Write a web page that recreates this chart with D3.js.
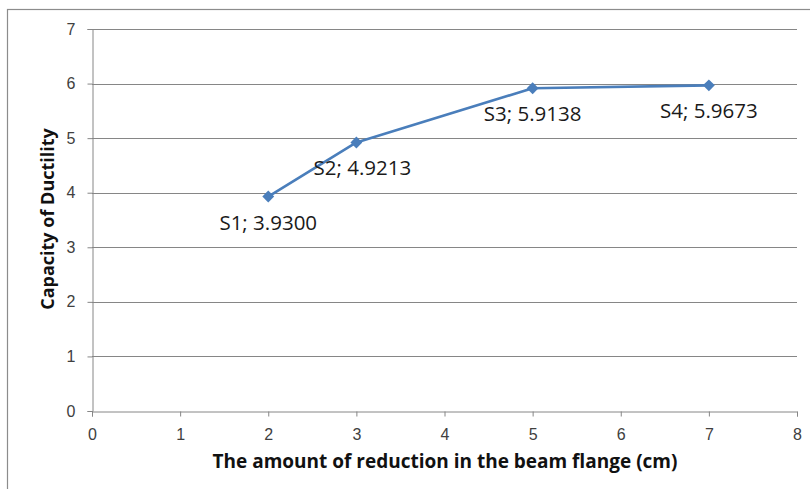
<!DOCTYPE html>
<html>
<head>
<meta charset="utf-8">
<script src="https://cdn.jsdelivr.net/npm/d3@7/dist/d3.min.js"></script>
<style>
  html, body { margin: 0; padding: 0; background: #fff; }
  svg { display: block; font-family: "Open Sans", "Noto Sans", sans-serif; }
</style>
</head>
<body>
<svg id="chart" width="810" height="489"></svg>
<script>
// Specimen labels, flange reduction (cm) and ductility capacity
const specimens = ["S1", "S2", "S3", "S4"];
const reduction = [2, 3, 5, 7];
const ductility = [3.9300, 4.9213, 5.9138, 5.9673];
const xTicks = [0, 1, 2, 3, 4, 5, 6, 7, 8];
const yTicks = [0, 1, 2, 3, 4, 5, 6, 7];
const xTitle = "The amount of reduction in the beam flange (cm)";
const yTitle = "Capacity of Ductility";

(function draw() {
  const svg = d3.select("#chart");
  const plot = { left: 92, right: 797, top: 29, bottom: 411 };
  const axisColor = "#868686";
  const lineColor = "#4a7ebb";

  // Outer chart frame
  svg.append("rect")
    .attr("x", 7.5).attr("y", 9.5)
    .attr("width", 900).attr("height", 600)
    .attr("fill", "none").attr("stroke", "#8c8c8c").attr("stroke-width", 1.2);

  const x = d3.scaleLinear().domain([0, 8]).range([plot.left, plot.right]);
  const y = d3.scaleLinear().domain([0, 7]).range([plot.bottom, plot.top]);

  // Horizontal gridlines
  svg.append("g").selectAll("line")
    .data(yTicks.filter(d => d > 0))
    .join("line")
    .attr("x1", plot.left).attr("x2", plot.right)
    .attr("y1", d => Math.round(y(d)) + 0.5).attr("y2", d => Math.round(y(d)) + 0.5)
    .attr("stroke", axisColor).attr("stroke-width", 1);

  // Y axis
  const yAxis = svg.append("g")
    .attr("transform", `translate(${plot.left + 0.5},0)`)
    .call(d3.axisLeft(y).tickValues(yTicks).tickFormat(d3.format("d")).tickSize(5).tickPadding(12));
  yAxis.select(".domain").attr("stroke", axisColor);
  yAxis.selectAll(".tick line").attr("stroke", axisColor);
  yAxis.selectAll(".tick text").attr("fill", "#404040").style("font-size", "16px");

  // X axis
  const xAxis = svg.append("g")
    .attr("transform", `translate(0,${plot.bottom + 0.5})`)
    .call(d3.axisBottom(x).tickValues(xTicks).tickFormat(d3.format("d")).tickSize(5).tickPadding(12));
  xAxis.select(".domain").attr("stroke", axisColor);
  xAxis.selectAll(".tick line").attr("stroke", axisColor);
  xAxis.selectAll(".tick text").attr("fill", "#404040").style("font-size", "16px");

  // Data line
  const points = reduction.map((r, i) => ({ r, v: ductility[i], name: specimens[i] }));
  svg.append("path")
    .datum(points)
    .attr("fill", "none")
    .attr("stroke", lineColor)
    .attr("stroke-width", 2.6)
    .attr("stroke-linejoin", "round")
    .attr("d", d3.line().x(d => x(d.r)).y(d => y(d.v)));

  // Diamond markers
  svg.append("g").selectAll("path")
    .data(points)
    .join("path")
    .attr("transform", d => `translate(${x(d.r)},${y(d.v)})`)
    .attr("d", d3.symbol(d3.symbolDiamond2, 90))
    .attr("fill", lineColor);

  // Data labels
  svg.append("g").selectAll("text")
    .data(points)
    .join("text")
    .attr("x", d => x(d.r) + (d.name === "S2" ? 6 : 0))
    .attr("y", d => y(d.v) + 33)
    .attr("text-anchor", "middle")
    .attr("fill", "#1a1a1a")
    .style("font-size", "20.5px")
    .text(d => `${d.name}; ${d.v.toFixed(4)}`);

  // Axis titles
  svg.append("text")
    .attr("x", 445)
    .attr("y", 468)
    .attr("text-anchor", "middle")
    .attr("fill", "#111")
    .style("font-size", "19px")
    .style("font-weight", "bold")
    .text(xTitle);

  svg.append("text")
    .attr("transform", `translate(53.5,219) rotate(-90)`)
    .attr("text-anchor", "middle")
    .attr("fill", "#111")
    .style("font-size", "18px")
    .style("font-weight", "bold")
    .text(yTitle);
})();
</script>
</body>
</html>
